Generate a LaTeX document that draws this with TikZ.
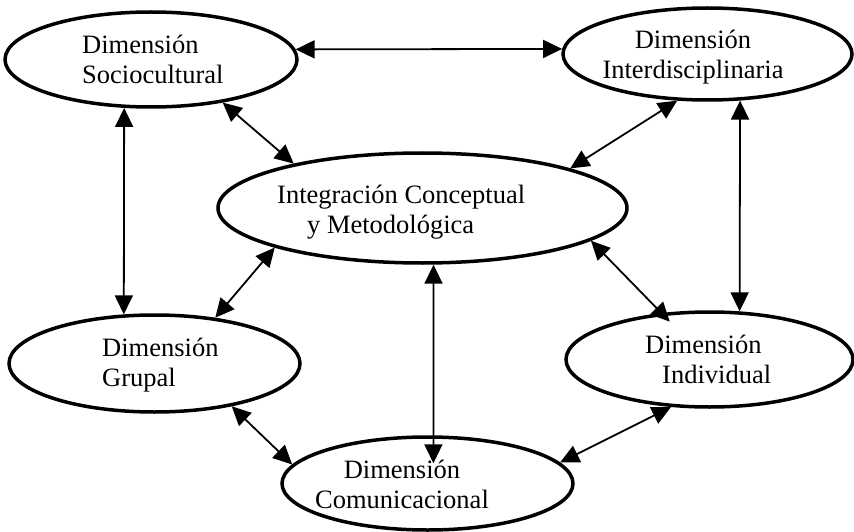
\documentclass[tikz,border=0pt]{standalone}
\usepackage{fontspec}
\setmainfont{Liberation Serif}
\usetikzlibrary{shapes.geometric,arrows.meta}
\begin{document}
\begin{tikzpicture}[x=1pt,y=-1pt,
  ell/.style={draw, ellipse, line width=3.5pt, inner sep=0pt},
  lbl/.style={font=\fontsize{26.5}{30}\selectfont, inner sep=0pt},
  link/.style={line width=1.8pt, {Triangle[length=19pt,width=18pt]}-{Triangle[length=19pt,width=18pt]}}]
\useasboundingbox (0,0) rectangle (854,532);

\node[ell, minimum width=292pt, minimum height=95pt] (soc) at (151,59.5) {};
\node[ell, minimum width=289pt, minimum height=92pt] (int) at (707.5,54) {};
\node[ell, minimum width=409pt, minimum height=110pt] (cen) at (422.5,208) {};
\node[ell, minimum width=291pt, minimum height=97pt] (gru) at (154.5,363.5) {};
\node[ell, minimum width=287pt, minimum height=95pt] (ind) at (709.5,359.5) {};
\node[ell, minimum width=291pt, minimum height=93pt] (com) at (427.5,483.5) {};

\node[lbl, anchor=west, align=left] (socT) at (82,59) {Dimensión\\Sociocultural};
\node[lbl, align=center] (intT) at (693,57) {Dimensión\\Interdisciplinaria};
\node[lbl, anchor=west, align=left] (cenT) at (277,212) {Integración Conceptual\\\hspace*{30pt}y Metodológica};
\node[lbl, anchor=west, align=left] (gruT) at (102,365) {Dimensión\\Grupal};
\node[lbl, anchor=west, align=left] (indT) at (645,359) {Dimensión\\\hspace*{17pt}Individual};
\node[lbl, align=center] (comT) at (402,484) {Dimensión\\Comunicacional};

\draw[link] (soc.4) -- (int.178);
\draw[link] (soc.241) -- (gru.122);
\draw[link] (soc.-31) -- (cen.161);
\draw[link] (int.237) -- (cen.15);
\draw[link] (int.-55) -- (ind.58);
\draw[link] (cen.195) -- (gru.37);
\draw[link, shorten >=-12pt] (cen.-11) -- (ind.136);
\draw[link, shorten >=-28pt] (cen.-79) -- (com.83);
\draw[link] (gru.-29) -- (com.172.5);
\draw[link] (com.9) -- (ind.231);
\end{tikzpicture}
\end{document}
